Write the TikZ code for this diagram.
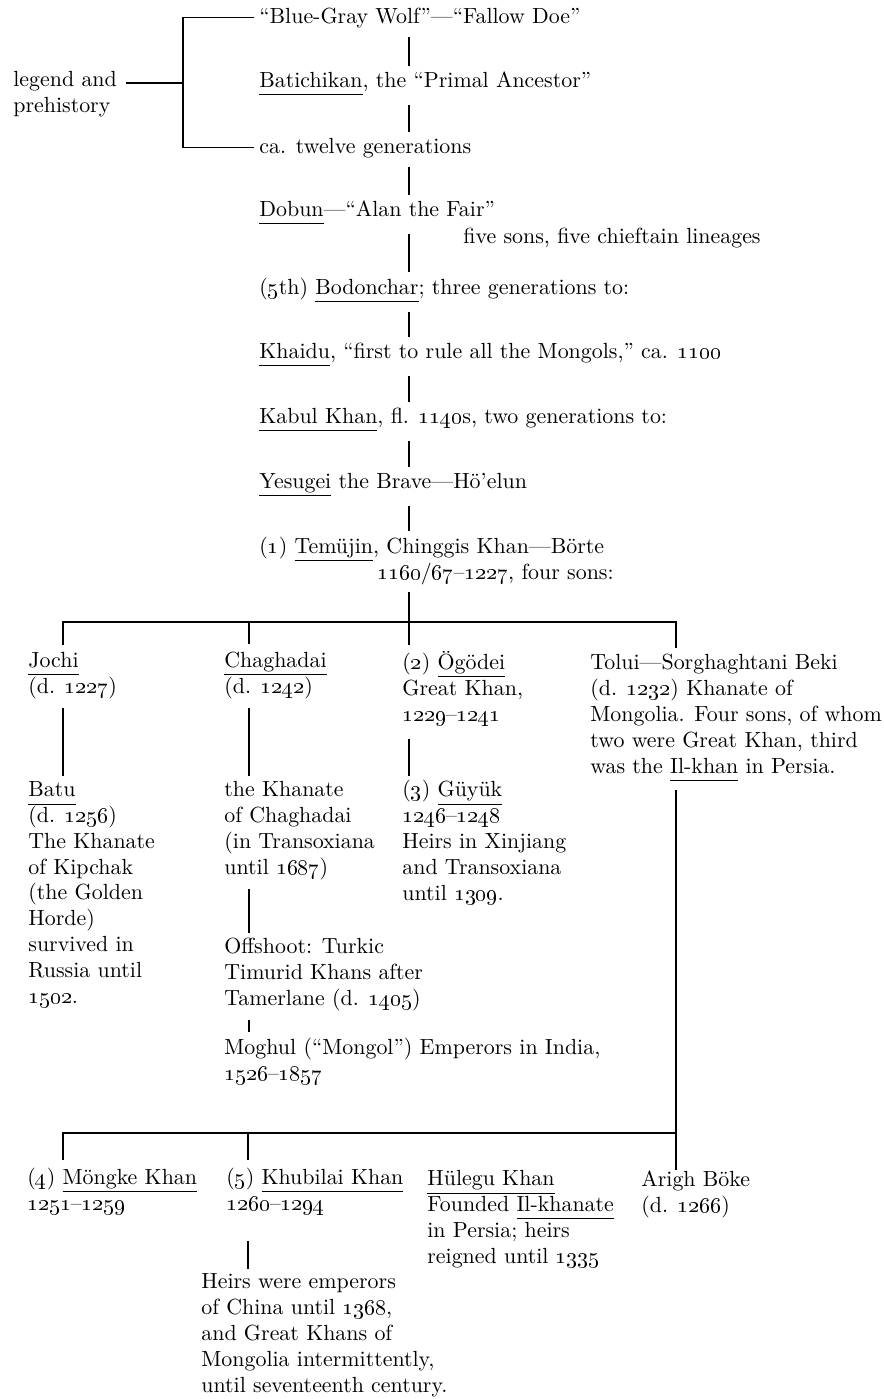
\documentclass[tikz,border=0pt]{standalone}
\usepackage{tikz}

\newcommand{\nm}[1]{\underline{#1\vphantom{gj}}}
\newcommand{\yr}[1]{\oldstylenums{#1}}

\begin{document}
\begin{tikzpicture}[x=0.5pt,y=-0.5pt,
  every node/.style={anchor=base west,inner sep=0pt,align=left,
    font=\fontsize{10.95}{12.9}\selectfont},
  rule/.style={line width=0.6pt},
  tie/.style={rule,shorten <=4.5pt,shorten >=2.5pt}]
  \useasboundingbox (0,0) rectangle (884,1399);
  % legend and the line down to Temujin (multi-line nodes sit on their last line)
  \node (wolf) at (259,23) {“Blue-Gray Wolf”—“Fallow Doe”};
  \node (bati) at (259,87) {\nm{Batichikan}, the “Primal Ancestor”};
  \node (twelve) at (259,153) {ca. twelve generations};
  \node (legend) at (13,112) {legend and\\prehistory};
  \node (dobun) at (259,216) {\nm{Dobun}—“Alan the Fair”};
  \node (fivesons) at (463,243) {five sons, five chieftain lineages};
  \node (bodon) at (259,294) {(\yr{5}th) \nm{Bodonchar}; three generations to:};
  \node (khaidu) at (259,358) {\nm{Khaidu}, “first to rule all the Mongols,” ca. \yr{1100}};
  \node (kabul) at (259,423) {\nm{Kabul Khan}, fl. \yr{1140}s, two generations to:};
  \node (yesugei) at (259,488) {\nm{Yesugei} the Brave—Hö’elun};
  \node (temujin) at (259,579) {(\yr{1}) \nm{Temüjin}, Chinggis Khan—Börte\\
    \hspace*{59pt}\yr{1160}/\yr{67}–\yr{1227}, four sons:};
  % sons
  \node (jochi) at (28,693) {\nm{Jochi}\\(d. \yr{1227})};
  \node (chag) at (224,693) {\nm{Chaghadai}\\(d. \yr{1242})};
  \node (ogodei) at (402,721) {(\yr{2}) \nm{Ögödei}\\Great Khan,\\\yr{1229}–\yr{1241}};
  \node (tolui) at (590,773) {Tolui—Sorghaghtani Beki\\(d. \yr{1232}) Khanate of\\
    Mongolia. Four sons, of whom\\two were Great Khan, third\\was the \nm{Il-khan} in Persia.};
  \node (batu) at (28,1003) {\nm{Batu}\\(d. \yr{1256})\\The Khanate\\of Kipchak\\(the Golden\\Horde)\\
    survived in\\Russia until\\\yr{1502}.};
  \node (khanate) at (224,874) {the Khanate\\of Chaghadai\\(in Transoxiana\\until \yr{1687})};
  \node (guyuk) at (402,900) {(\yr{3}) \nm{Güyük}\\\yr{1246}–\yr{1248}\\Heirs in Xinjiang\\
    and Transoxiana\\until \yr{1309}.};
  \node (offshoot) at (224,1005) {Offshoot: Turkic\\Timurid Khans after\\Tamerlane (d. \yr{1405})};
  \node (moghul) at (224,1080) {Moghul (“Mongol”) Emperors in India,\\\yr{1526}–\yr{1857}};
  % sons of Tolui
  \node (mongke) at (27,1210) {(\yr{4}) \nm{Möngke Khan}\\\yr{1251}–\yr{1259}};
  \node (khubilai) at (226,1210) {(\yr{5}) \nm{Khubilai Khan}\\\yr{1260}–\yr{1294}};
  \node (hulegu) at (427,1263) {\nm{Hülegu Khan}\\Founded \nm{Il-khanate}\\in Persia; heirs\\
    reigned until \yr{1335}};
  \node (arigh) at (641,1212) {Arigh Böke\\(d. \yr{1266})};
  \node (heirs) at (201,1392) {Heirs were emperors\\of China until \yr{1368},\\and Great Khans of\\
    Mongolia intermittently,\\until seventeenth century.};

  \coordinate (sp) at (409,0);
  \coordinate (xj) at (63,0);
  \coordinate (xc) at (249,0);
  \coordinate (xk) at (248,0);
  \coordinate (xt) at (676,0);
  \coordinate (bar) at (0,622);
  \coordinate (bar2) at (0,1133);
  \coordinate (brk) at (183,83);

  \draw[rule] ([xshift=-2.5pt]wolf.west) -| (brk) |- ([xshift=-2.5pt]twelve.west);
  \draw[rule] ([xshift=4.5pt]legend.east |- brk) -- (brk);
  \foreach \a/\b in {wolf/bati,bati/twelve,twelve/dobun,dobun/bodon,bodon/khaidu,
      khaidu/kabul,kabul/yesugei,yesugei/temujin}
    \draw[tie] (\a.south -| sp) -- (\b.north -| sp);
  \draw[rule,shorten <=3.5pt,shorten >=3pt] (temujin.south -| sp) -- (ogodei.north -| sp);
  \draw[rule,shorten <=3.5pt,shorten >=3pt] (jochi.north -| xj) |- (bar -| xt)
    -- (tolui.north -| xt);
  \draw[rule,shorten >=3.5pt] (bar -| xc) -- (chag.north -| xc);
  \draw[tie] (jochi.south -| xj) -- (batu.north -| xj);
  \draw[tie] (chag.south -| xc) -- (khanate.north -| xc);
  \draw[tie] (khanate.south -| xc) -- (offshoot.north -| xc);
  \draw[tie] (offshoot.south -| xc) -- (moghul.north -| xc);
  \draw[rule,shorten <=6.5pt,shorten >=2pt] (ogodei.south -| sp) -- (guyuk.north -| sp);
  \draw[rule,shorten <=4pt] (tolui.south -| xt) -- (arigh.north -| xt);
  \draw[rule,shorten >=3.5pt] (bar2 -| xt) -| (mongke.north -| xj);
  \draw[rule,shorten >=3.5pt] (bar2 -| xk) -- (khubilai.north -| xk);
  \draw[rule,shorten <=13pt,shorten >=2pt] (khubilai.south -| xk) -- (heirs.north -| xk);
\end{tikzpicture}
\end{document}
